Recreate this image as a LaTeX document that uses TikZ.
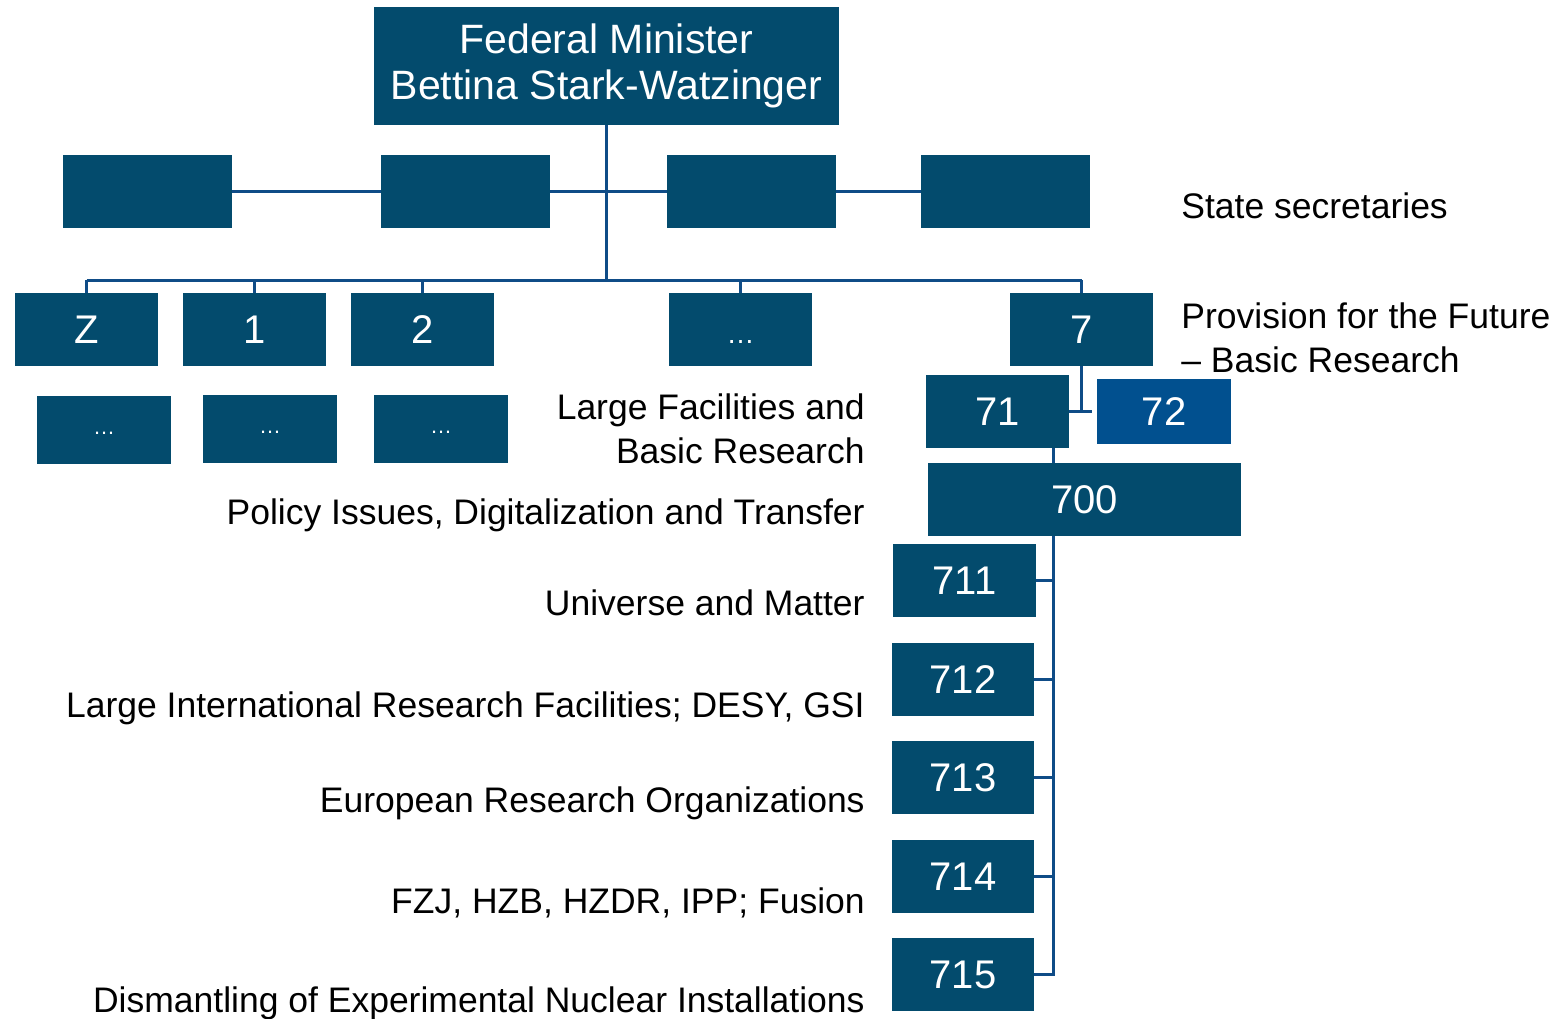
\documentclass[tikz,border=0pt]{standalone}
\usepackage{fontspec}
\setmainfont{Liberation Sans}
\definecolor{boxc}{HTML}{034B6D}
\definecolor{linec}{HTML}{0F4C87}
\definecolor{boxb}{HTML}{01508F}
\tikzset{
  orgbox/.style={fill=boxc, text=white, inner sep=0pt, draw=none,
    font=\fontsize{20}{24}\selectfont},
  wide/.style={minimum width=84.5pt, minimum height=36.5pt},
  unit/.style={minimum width=71.5pt, minimum height=36.5pt},
  subbox/.style={minimum width=67pt, minimum height=34pt, font=\fontsize{11}{12}\selectfont},
  conn/.style={draw=linec, line width=1.5pt},
  lbl/.style={inner sep=0pt, text=black, font=\fontsize{17.75}{22}\selectfont},
}
\newcommand{\rowdots}{{\fontsize{20}{24}\selectfont\vphantom{7}}{\fontsize{14}{14}\selectfont\char"2026}}
\newcommand{\subdots}{\raisebox{-4pt}{\char"2026}}
\begin{document}
\begin{tikzpicture}[x=0.5pt,y=-0.5pt]
\useasboundingbox (0,0) rectangle (1568,1018);
% Minister
\node[orgbox, minimum width=232.5pt, minimum height=59pt, align=center,
  font=\fontsize{20.5}{23}\selectfont] (min) at (606.5,66) {Federal Minister\\Bettina Stark-Watzinger};
% State secretaries
\node[orgbox, wide] (s1) at (147.5,191.5) {};
\node[orgbox, wide] (s2) at (465.5,191.5) {};
\node[orgbox, wide] (s3) at (751.5,191.5) {};
\node[orgbox, wide] (s4) at (1005.5,191.5) {};
% Departments
\node[orgbox, unit] (dZ) at (86.5,329.5) {Z};
\node[orgbox, unit] (d1) at (254.5,329.5) {1};
\node[orgbox, unit] (d2) at (422.5,329.5) {2};
\node[orgbox, unit] (dx) at (740.5,329.5) {\rowdots};
\node[orgbox, unit] (d7) at (1081.5,329.5) {7};
% sub boxes
\node[orgbox, subbox] (a1) at (104,430) {\subdots};
\node[orgbox, subbox] (a2) at (270,429) {\subdots};
\node[orgbox, subbox] (a3) at (441,429) {\subdots};
% Directorates
\node[orgbox, unit] (n71) at (997.5,411.5) {71};
\node[orgbox, fill=boxb, minimum width=67pt, minimum height=32.5pt] (n72) at (1164,411.5) {72};
\node[orgbox, minimum width=156.5pt, minimum height=36.5pt] (n700) at (1084.5,499.5) {700};
\node[orgbox, unit] (n711) at (964.5,580.5) {711};
\node[orgbox, minimum width=71pt, minimum height=36.5pt] (n712) at (963,679.5) {712};
\node[orgbox, minimum width=71pt, minimum height=36.5pt] (n713) at (963,777.5) {713};
\node[orgbox, minimum width=71pt, minimum height=36.5pt] (n714) at (963,876.5) {714};
\node[orgbox, minimum width=71pt, minimum height=36.5pt] (n715) at (963,974.5) {715};
% coordinates
\coordinate (busL) at (86.5,280);
\coordinate (busR) at (1081.5,280);
\coordinate (j7) at (1081.5,411.5);
\coordinate (j72) at (1092,411.5);
\coordinate (v) at (1053,0);
% connectors
\draw[conn] (s1.east) -- (s2.west);
\draw[conn] (s2.east) -- (s3.west);
\draw[conn] (s3.east) -- (s4.west);
\draw[conn] (min.south) -- (min.south |- busL);
\draw[conn] (busL) -- (busR);
\draw[conn] (dZ.north) -- (dZ.north |- busL);
\draw[conn] (d1.north) -- (d1.north |- busL);
\draw[conn] (d2.north) -- (d2.north |- busL);
\draw[conn] (dx.north) -- (dx.north |- busL);
\draw[conn] (d7.north) -- (d7.north |- busL);
\draw[conn] (d7.south) -- (j7);
\draw[conn] (n71.east) -- (j72);
\draw[conn] (v |- n71.south) -- (v |- n700.north);
\draw[conn] (v |- n700.south) -- (v |- n715.east) -- (n715.east);
\draw[conn] (n711.east) -- (v |- n711.east);
\draw[conn] (n712.east) -- (v |- n712.east);
\draw[conn] (n713.east) -- (v |- n713.east);
\draw[conn] (n714.east) -- (v |- n714.east);
% labels
\node[lbl, anchor=base west] (tss) at (1181,218) {State secretaries};
\node[lbl, anchor=west, align=left] (tpf) at (1181,338) {Provision for the Future\\– Basic Research};
\node[lbl, anchor=east, align=right] (t71) at (865,429) {Large Facilities and\\Basic Research};
\node[lbl, anchor=base east] (t700) at (865,524) {Policy Issues, Digitalization and Transfer};
\node[lbl, anchor=base east] (t711) at (865,615.5) {Universe and Matter};
\node[lbl, anchor=base east] (t712) at (865,717) {Large International Research Facilities; DESY, GSI};
\node[lbl, anchor=base east] (t713) at (865,812) {European Research Organizations};
\node[lbl, anchor=base east] (t714) at (865,913) {FZJ, HZB, HZDR, IPP; Fusion};
\node[lbl, anchor=base east] (t715) at (865,1012) {Dismantling of Experimental Nuclear Installations};
\end{tikzpicture}
\end{document}
